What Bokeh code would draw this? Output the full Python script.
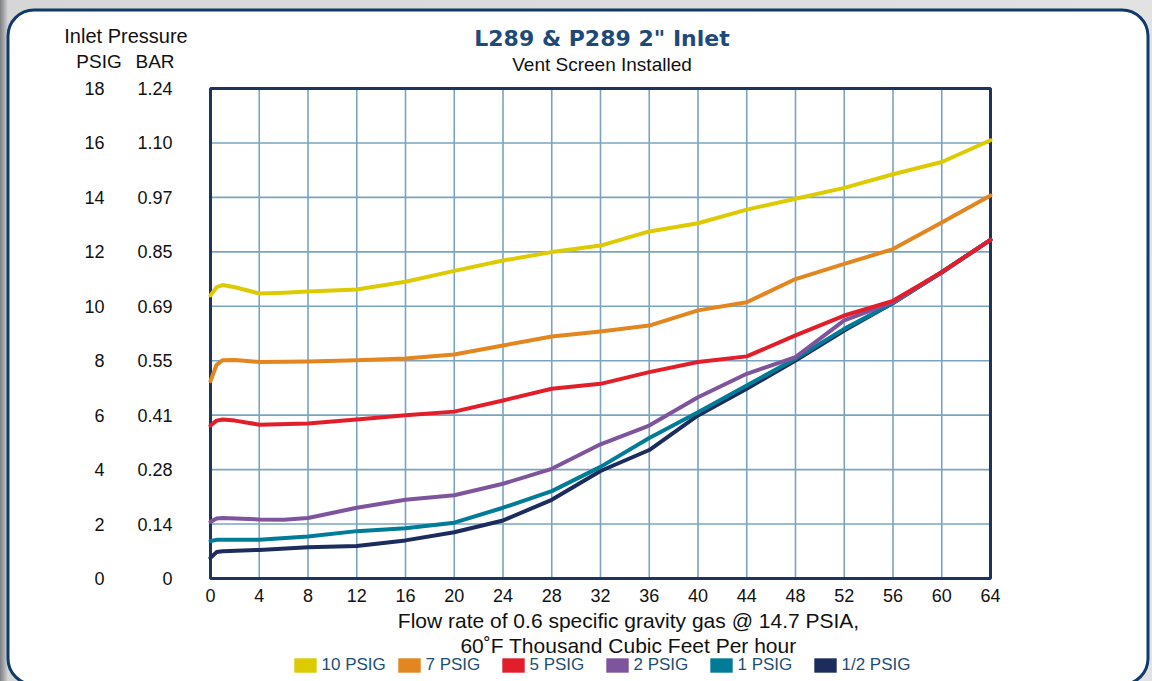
from bokeh.plotting import figure
from bokeh.models import (LinearAxis, FixedTicker, Label, Legend, LegendItem,
                          Range1d, BoxAnnotation)
from bokeh.embed import file_html
from bokeh.resources import INLINE

# ---------------- data ----------------
title_text = 'L289 & P289 2" Inlet'
subtitle_text = "Vent Screen Installed"
y_header = "Inlet Pressure"
psig_header = "PSIG"
bar_header = "BAR"
x_label_1 = "Flow rate of 0.6 specific gravity gas @ 14.7 PSIA,"
x_label_2 = "60˚F Thousand Cubic Feet Per hour"

x_ticks = [0, 4, 8, 12, 16, 20, 24, 28, 32, 36, 40, 44, 48, 52, 56, 60, 64]
psig_ticks = [0, 2, 4, 6, 8, 10, 12, 14, 16, 18]
bar_labels = ["0", "0.14", "0.28", "0.41", "0.55", "0.69", "0.85", "0.97", "1.10", "1.24"]

series_names = ["10 PSIG", "7 PSIG", "5 PSIG", "2 PSIG", "1 PSIG", "1/2 PSIG"]
series_colors = ["#dccb00", "#e3861f", "#e31e2b", "#7e559c", "#007b98", "#1c2c5c"]

x_10 = [0, 0.5, 1, 2, 4, 6, 8, 12, 16, 20, 24, 28, 32, 36, 40, 44, 48, 52, 56, 60, 64]
y_10 = [10.4, 10.7, 10.78, 10.7, 10.47, 10.5, 10.54, 10.62, 10.9, 11.3, 11.68, 11.99,
        12.23, 12.75, 13.05, 13.55, 13.95, 14.35, 14.85, 15.3, 16.1]

x_7 = [0, 0.5, 1, 2, 4, 8, 12, 16, 20, 24, 28, 32, 36, 40, 44, 48, 52, 56, 60, 64]
y_7 = [7.25, 7.85, 8.02, 8.03, 7.95, 7.97, 8.02, 8.08, 8.23, 8.56, 8.89, 9.07, 9.29,
       9.85, 10.15, 11.0, 11.56, 12.1, 13.08, 14.07]

x_5 = [0, 0.5, 1, 2, 4, 8, 12, 16, 20, 24, 28, 32, 36, 40, 44, 48, 52, 56, 60, 64]
y_5 = [5.62, 5.8, 5.84, 5.8, 5.65, 5.69, 5.84, 6.0, 6.13, 6.54, 6.97, 7.15, 7.58,
       7.95, 8.16, 8.93, 9.66, 10.2, 11.25, 12.44]

x_2 = [0, 0.5, 1, 4, 6, 8, 12, 16, 20, 24, 28, 32, 36, 40, 44, 48, 52, 56, 60, 64]
y_2 = [2.08, 2.2, 2.22, 2.17, 2.16, 2.22, 2.6, 2.89, 3.06, 3.48, 4.03, 4.93, 5.62,
       6.66, 7.52, 8.13, 9.48, 10.15, 11.25, 12.44]

x_1 = [0, 0.5, 4, 8, 12, 16, 20, 24, 28, 32, 36, 40, 44, 48, 52, 56, 60, 64]
y_1 = [1.38, 1.42, 1.42, 1.54, 1.74, 1.85, 2.05, 2.6, 3.21, 4.1, 5.16, 6.11, 7.09,
       8.07, 9.17, 10.12, 11.25, 12.44]

x_half = [0, 0.5, 1, 4, 8, 12, 16, 20, 24, 28, 32, 36, 40, 44, 48, 52, 56, 60, 64]
y_half = [0.76, 0.97, 1.0, 1.05, 1.15, 1.19, 1.4, 1.7, 2.13, 2.89, 3.95, 4.72, 5.99,
          6.97, 8.01, 9.11, 10.12, 11.25, 12.44]

series_x = [x_10, x_7, x_5, x_2, x_1, x_half]
series_y = [y_10, y_7, y_5, y_2, y_1, y_half]

# ---------------- layout / styling ----------------
FONT = "Liberation Sans"
NAVY = "#1f3360"
GRID = "#79a4c1"
W, H = 1152, 681
# pixel position of the plot area inside the canvas
PX_L, PX_R, PX_T, PX_B = 210, 990, 88, 578

x0, x1 = x_ticks[0], x_ticks[-1]
y0, y1 = psig_ticks[0], psig_ticks[-1]
kx = (x1 - x0) / (PX_R - PX_L)
ky = (y1 - y0) / (PX_B - PX_T)
x_range = Range1d(x0 - PX_L * kx, x1 + (W - PX_R) * kx)
y_range = Range1d(y0 - (H - PX_B) * ky, y1 + PX_T * ky)

p = figure(width=W, height=H, x_range=x_range, y_range=y_range,
           output_backend="svg", toolbar_location=None,
           min_border=0, min_border_left=0, min_border_right=0,
           min_border_top=0, min_border_bottom=0)
p.styles = {"background": "linear-gradient(90deg, #7d7f83 0px, #a8a9ac 4px, #d6d6d6 8px, #e2e2e2 100%)"}
p.background_fill_alpha = 0
p.border_fill_alpha = 0
p.outline_line_color = None
p.xgrid.visible = False
p.ygrid.visible = False


def sy(py):
    return H - py


# white rounded panel
panel = BoxAnnotation(left=7.5, right=1147.5, top=sy(9.5), bottom=sy(684),
                      left_units="screen", right_units="screen",
                      top_units="screen", bottom_units="screen",
                      fill_color="white", fill_alpha=1.0,
                      line_color="#0f3a6c", line_alpha=1.0, line_width=3,
                      border_radius=26, level="image")
p.add_layout(panel)

# x axis fixed at y = 0
xa = p.xaxis[0]
xa.fixed_location = y0
xa.ticker = FixedTicker(ticks=x_ticks)
xa.axis_line_color = None
xa.major_tick_line_color = None
xa.minor_tick_line_color = None
xa.major_tick_out = 0
xa.major_tick_in = 0
xa.major_label_standoff = 10
xa.major_label_text_font = FONT
xa.major_label_text_font_size = "18px"
xa.major_label_text_color = "#111111"

# BAR axis
ba = p.yaxis[0]
ba.fixed_location = x0
ba.ticker = FixedTicker(ticks=psig_ticks)
ba.major_label_overrides = {t: l for t, l in zip(psig_ticks, bar_labels)}
ba.axis_line_color = None
ba.major_tick_line_color = None
ba.minor_tick_line_color = None
ba.major_tick_out = 0
ba.major_tick_in = 0
ba.major_label_standoff = 38
ba.major_label_text_font = FONT
ba.major_label_text_font_size = "18px"
ba.major_label_text_color = "#111111"

# PSIG axis
pa = LinearAxis(ticker=FixedTicker(ticks=psig_ticks), fixed_location=x0)
pa.axis_line_color = None
pa.major_tick_line_color = None
pa.minor_tick_line_color = None
pa.major_tick_out = 0
pa.major_tick_in = 0
pa.major_label_standoff = 106
pa.major_label_text_font = FONT
pa.major_label_text_font_size = "18px"
pa.major_label_text_color = "#111111"
p.add_layout(pa, "left")

# grid lines at the tick positions
inner_x = x_ticks[1:-1]
inner_y = psig_ticks[1:-1]
p.segment(x0=inner_x, y0=[y0] * len(inner_x), x1=inner_x, y1=[y1] * len(inner_x),
          line_color=GRID, line_width=1.6)
p.segment(x0=[x0] * len(inner_y), y0=inner_y, x1=[x1] * len(inner_y), y1=inner_y,
          line_color=GRID, line_width=1.6)

# plot-area frame
p.quad(left=[x0], right=[x1], bottom=[y0], top=[y1], fill_color=None,
       line_color=NAVY, line_width=3)

# curves (drawing order so red ends up on top)
for idx in [0, 1, 5, 4, 3, 2]:
    p.line(series_x[idx], series_y[idx], line_color=series_colors[idx],
           line_width=4, line_join="round", line_cap="round")

# legend with square swatches (legend-only glyphs, no visible data)
nan = float("nan")
items = []
for name, col in zip(series_names, series_colors):
    r = p.quad(left=[nan], right=[nan], top=[nan], bottom=[nan],
               fill_color=col, line_color=None)
    items.append(LegendItem(label=name, renderers=[r]))
legend = Legend(items=items, orientation="horizontal", location=(290.5, 6),
                glyph_width=28, glyph_height=18, label_standoff=3, label_width=73,
                label_height=18, spacing=0, padding=0, margin=0,
                border_line_color=None, background_fill_alpha=0,
                label_text_font=FONT, label_text_font_size="17px",
                label_text_color="#1d4f73")
p.add_layout(legend)


def add_label(text, x, py, size, bold=False, color="#111111", font=FONT):
    p.add_layout(Label(x=x, y=sy(py), x_units="screen", y_units="screen", text=text,
                       text_align="center", text_baseline="alphabetic",
                       text_font=font, text_font_size=size,
                       text_font_style="bold" if bold else "normal",
                       text_color=color))


add_label(title_text, 601.5, 38, "22px", bold=True, color="#1e4a78", font="DejaVu Sans")
add_label(subtitle_text, 601.5, 64, "19px")
add_label(y_header, 125.5, 35, "20px")
add_label(psig_header, 98.5, 61, "19px")
add_label(bar_header, 154.5, 61, "19px")
add_label(x_label_1, 628, 620, "21px")
add_label(x_label_2, 628, 645, "21px")

open("out.html", "w").write(file_html(p, INLINE))
